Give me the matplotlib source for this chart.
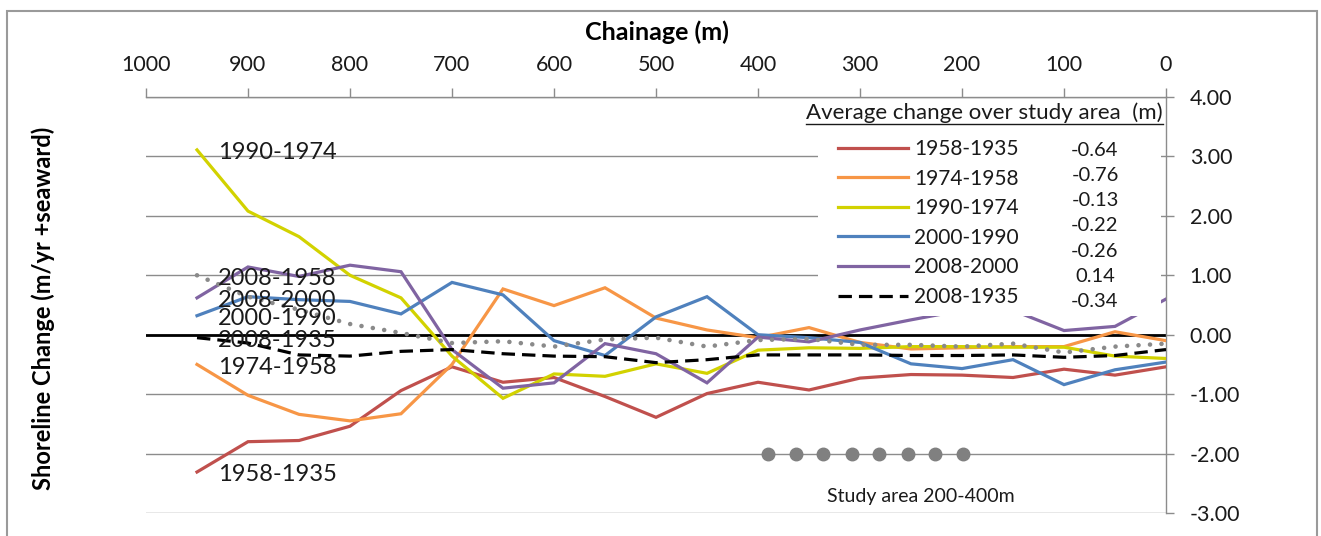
import matplotlib
matplotlib.use('Agg')
import matplotlib.pyplot as plt
from matplotlib.lines import Line2D
from matplotlib.patches import Rectangle

# ---------------- data ----------------
chainage = [950, 900, 850, 800, 750, 700, 650, 600, 550, 500,
            450, 400, 350, 300, 250, 200, 150, 100, 50, 0]

s1958_1935 = [-2.31, -1.80, -1.78, -1.54, -0.94, -0.54, -0.80, -0.72, -1.04, -1.39,
              -0.99, -0.80, -0.93, -0.73, -0.67, -0.68, -0.72, -0.58, -0.68, -0.54]
s1974_1958 = [-0.50, -1.02, -1.34, -1.45, -1.33, -0.50, 0.77, 0.49, 0.79, 0.28,
              0.08, -0.05, 0.12, -0.13, -0.24, -0.22, -0.20, -0.20, 0.05, -0.10]
s1990_1974 = [3.11, 2.08, 1.65, 1.00, 0.62, -0.36, -1.07, -0.66, -0.70, -0.49,
              -0.65, -0.26, -0.22, -0.23, -0.20, -0.20, -0.21, -0.21, -0.36, -0.40]
s2000_1990 = [0.32, 0.64, 0.59, 0.56, 0.35, 0.88, 0.67, -0.10, -0.35, 0.30,
              0.64, 0.00, -0.05, -0.13, -0.49, -0.57, -0.42, -0.84, -0.59, -0.46]
s2008_2000 = [0.62, 1.14, 0.98, 1.17, 1.06, -0.25, -0.90, -0.81, -0.15, -0.32,
              -0.81, -0.04, -0.12, 0.08, 0.25, 0.41, 0.41, 0.07, 0.14, 0.60]
s2008_1958 = [1.00, 0.64, 0.42, 0.18, 0.03, -0.14, -0.11, -0.20, -0.08, -0.05,
              -0.20, -0.09, -0.07, -0.17, -0.17, -0.20, -0.15, -0.30, -0.20, -0.15]
s2008_1935 = [-0.05, -0.14, -0.34, -0.36, -0.28, -0.25, -0.32, -0.36, -0.37, -0.47,
              -0.42, -0.34, -0.34, -0.34, -0.35, -0.35, -0.34, -0.38, -0.35, -0.25]

legend_labels = ['1958-1935', '1974-1958', '1990-1974', '2000-1990', '2008-2000', '2008-1935']
avg_values = ['-0.64', '-0.76', '-0.13', '-0.22', '-0.26', '0.14', '-0.34']

study_chainage = [390, 363, 336, 308, 281, 253, 226, 199]
study_level = [-2.0, -2.0, -2.0, -2.0, -2.0, -2.0, -2.0, -2.0]

x_ticks = [1000, 900, 800, 700, 600, 500, 400, 300, 200, 100, 0]
y_ticks = [-3, -2, -1, 0, 1, 2, 3, 4]
y_tick_labels = ['-3.00', '-2.00', '-1.00', '0.00', '1.00', '2.00', '3.00', '4.00']

# ---------------- figure ----------------
plt.rcParams['font.family'] = ['Lato', 'DejaVu Sans']
W, H = 1321, 536
fig = plt.figure(figsize=(W / 100, H / 100), dpi=100)
fig.patch.set_facecolor('white')


def fx(px):
    return px / W


def fy(py):
    return 1 - py / H


ax = fig.add_axes([fx(146), fy(513), fx(1166) - fx(146), fy(97) - fy(513)])
ax.set_xlim(1000, 0)
ax.set_ylim(-3, 4)

grid_c = '#8c8c8c'
for s in ['left', 'bottom']:
    ax.spines[s].set_visible(False)
for s in ['top', 'right']:
    ax.spines[s].set_color(grid_c)
    ax.spines[s].set_linewidth(1.0)

ax.xaxis.tick_top()
ax.set_xticks(x_ticks)
ax.set_xticklabels([str(v) for v in x_ticks], fontsize=15.5, color='#1a1a1a')
ax.tick_params(axis='x', direction='out', length=6.5, width=1.0, color=grid_c, pad=9)

ax.yaxis.tick_right()
ax.set_yticks(y_ticks)
ax.set_yticklabels(y_tick_labels, fontsize=15.5, color='#1a1a1a')
ax.tick_params(axis='y', direction='out', length=6, width=1.0, color=grid_c, pad=11)

ax.grid(axis='y', color=grid_c, linewidth=1.0, zorder=0)
ax.set_axisbelow(True)
ax.axhline(0, color='black', linewidth=2.0, zorder=2.5)

lw = 2.3
series = [
    (s1958_1935, '#C0504D', '1958-1935'),
    (s1974_1958, '#F79646', '1974-1958'),
    (s1990_1974, '#D2D200', '1990-1974'),
    (s2000_1990, '#4F81BD', '2000-1990'),
    (s2008_2000, '#8064A2', '2008-2000'),
]
handles = []
for vals, col, name in series:
    h, = ax.plot(chainage, vals, color=col, lw=lw, solid_joinstyle='miter', zorder=3)
    handles.append(h)

g, = ax.plot(chainage, s2008_1958, color='#8a8a8a', lw=3.3, linestyle=(0, (0.01, 2.5)),
             dash_capstyle='round', zorder=3)
k, = ax.plot(chainage, s2008_1935, color='black', lw=lw, linestyle=(0, (4.2, 2.2)), zorder=3.2)
handles.append(k)

# data labels at first point
label_series = [
    ('1990-1974', s1990_1974), ('2008-1958', s2008_1958), ('2008-2000', s2008_2000),
    ('2000-1990', s2000_1990), ('2008-1935', s2008_1935), ('1974-1958', s1974_1958),
    ('1958-1935', s1958_1935),
]
for name, vals in label_series:
    ax.annotate(name, xy=(chainage[0], vals[0]), xytext=(15, -2), textcoords='offset points',
                ha='left', va='center', fontsize=17, color='#1a1a1a', zorder=4)

# study area markers
ax.plot(study_chainage, study_level, 'o', color='#808080', ms=9, zorder=3)
ax.text(240, -2.72, 'Study area 200-400m', ha='center', va='center', fontsize=14,
        color='#1a1a1a')

# white box behind legend
fig.patches.append(Rectangle((fx(818), fy(316)), fx(1161) - fx(818), fy(104) - fy(316),
                             transform=fig.transFigure, facecolor='white',
                             edgecolor='none', zorder=2))

leg = fig.legend(handles, legend_labels, loc='upper left',
                 bbox_to_anchor=(fx(838), fy(139)), bbox_transform=fig.transFigure,
                 frameon=False, fontsize=15, handlelength=3.35, handletextpad=0.3,
                 labelspacing=0.46, borderpad=0, borderaxespad=0)
leg.set_zorder(3)
for t in leg.get_texts():
    t.set_color('#1a1a1a')

for i, v in enumerate(avg_values):
    fig.text(fx(1095), fy(150 + i * 25.3), v, ha='center', va='center', fontsize=14.5,
             color='#1a1a1a', zorder=4)

title = fig.text(fx(1163), fy(113), 'Average change over study area  (m)', ha='right',
                 va='center', fontsize=16, color='#1a1a1a', zorder=4)
fig.canvas.draw()
bb = title.get_window_extent()
fig.lines.append(Line2D([bb.x0 / W, bb.x1 / W], [fy(124), fy(124)], transform=fig.transFigure,
                        color='#1a1a1a', lw=1.0, zorder=4))

# axis titles
fig.text(fx(657), fy(32), 'Chainage (m)', ha='center', va='center', fontsize=18,
         fontweight='bold', color='black')
fig.text(fx(43), fy(308), 'Shoreline Change (m/yr +seaward)', ha='center', va='center',
         rotation=90, fontsize=17, fontweight='bold', color='black')

# outer frame
fig.patches.append(Rectangle((fx(7), fy(545)), fx(1317) - fx(7), fy(11) - fy(545),
                             transform=fig.transFigure, facecolor='none',
                             edgecolor='#9a9a9a', lw=1.5, zorder=5))

fig.savefig('out.png', dpi=100, facecolor='white')
